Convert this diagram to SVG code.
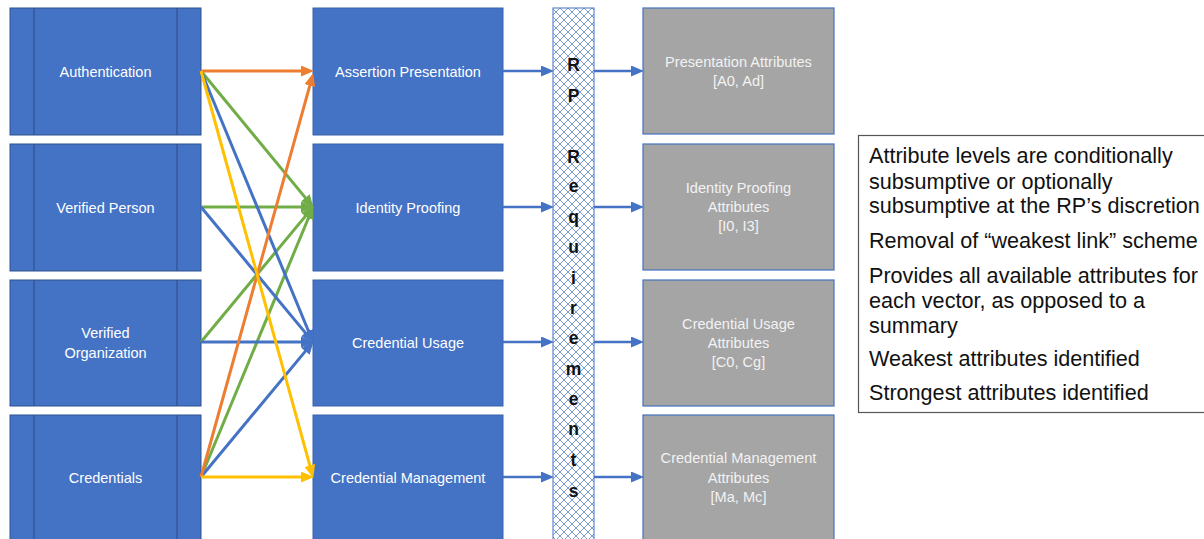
<svg xmlns="http://www.w3.org/2000/svg" width="1204" height="539" viewBox="0 0 1204 539">
<defs>
<style>
.lbox{fill:#4472C4;stroke:#2F528F;stroke-width:1}
.div{stroke:#2F528F;stroke-width:1.2}
.mbox{fill:#4472C4;stroke:#3A63AD;stroke-width:1}
.gbox{fill:#A5A5A5;stroke:#4472C4;stroke-width:1.2}
.bt{font-family:"Liberation Sans",Arial,sans-serif;font-size:14.5px;fill:#FFFFFF;text-anchor:middle}
.gt{font-family:"Liberation Sans",Arial,sans-serif;font-size:14.6px;fill:#F2F2F2;text-anchor:middle}
.rp{font-family:"Liberation Sans",Arial,sans-serif;font-size:17.5px;font-weight:bold;fill:#111;text-anchor:middle}
.nt{font-family:"Liberation Sans",Arial,Helvetica,sans-serif;font-size:21.6px;fill:#111}
.c{fill:none;stroke-width:3}
.o{stroke:#ED7D31}.g{stroke:#70AD47}.b{stroke:#4472C4}.y{stroke:#FFC000}
.ba{fill:none;stroke:#4472C4;stroke-width:2.5}
</style>
<pattern id="hatch" patternUnits="userSpaceOnUse" width="8" height="8">
<rect width="8" height="8" fill="#FFFFFF"/>
<path d="M0,0 L8,8 M8,0 L0,8" stroke="#7B9BD9" stroke-width="1"/>
</pattern>
<marker id="mo" markerUnits="userSpaceOnUse" markerWidth="14" markerHeight="12" refX="6" refY="5.5" orient="auto"><path d="M0,0 L13,5.5 L0,11 z" fill="#ED7D31"/></marker>
<marker id="mg" markerUnits="userSpaceOnUse" markerWidth="14" markerHeight="12" refX="6" refY="5.5" orient="auto"><path d="M0,0 L13,5.5 L0,11 z" fill="#70AD47"/></marker>
<marker id="mb" markerUnits="userSpaceOnUse" markerWidth="14" markerHeight="12" refX="6" refY="5.5" orient="auto"><path d="M0,0 L13,5.5 L0,11 z" fill="#4472C4"/></marker>
<marker id="my" markerUnits="userSpaceOnUse" markerWidth="14" markerHeight="12" refX="6" refY="5.5" orient="auto"><path d="M0,0 L13,5.5 L0,11 z" fill="#FFC000"/></marker>
</defs>
<rect width="1204" height="539" fill="#FFFFFF"/>

<g id="left-nodes">
<g id="n-authentication">
<rect class="lbox" x="10" y="8" width="191" height="127"/>
<line class="div" x1="34" y1="8" x2="34" y2="135"/><line class="div" x1="177" y1="8" x2="177" y2="135"/>
<text class="bt" x="105.5" y="76.5">Authentication</text>
</g>
<g id="n-verified-person">
<rect class="lbox" x="10" y="144" width="191" height="127"/>
<line class="div" x1="34" y1="144" x2="34" y2="271"/><line class="div" x1="177" y1="144" x2="177" y2="271"/>
<text class="bt" x="105.5" y="212.5">Verified Person</text>
</g>
<g id="n-verified-org">
<rect class="lbox" x="10" y="280" width="191" height="126"/>
<line class="div" x1="34" y1="280" x2="34" y2="406"/><line class="div" x1="177" y1="280" x2="177" y2="406"/>
<text class="bt" x="105.5" y="338">Verified</text>
<text class="bt" x="105.5" y="357.5">Organization</text>
</g>
<g id="n-credentials">
<rect class="lbox" x="10" y="415" width="191" height="130"/>
<line class="div" x1="34" y1="415" x2="34" y2="545"/><line class="div" x1="177" y1="415" x2="177" y2="545"/>
<text class="bt" x="105.5" y="483">Credentials</text>
</g>
</g>

<g id="middle-nodes">
<g id="n-assertion"><rect class="mbox" x="313" y="8" width="190" height="127"/><text class="bt" x="408" y="77">Assertion Presentation</text></g>
<g id="n-identity"><rect class="mbox" x="313" y="144" width="190" height="127"/><text class="bt" x="408" y="212.5">Identity Proofing</text></g>
<g id="n-usage"><rect class="mbox" x="313" y="280" width="190" height="126"/><text class="bt" x="408" y="348">Credential Usage</text></g>
<g id="n-management"><rect class="mbox" x="313" y="415" width="190" height="130"/><text class="bt" x="408" y="483">Credential Management</text></g>
</g>

<g id="n-rp-requirements">
<rect x="553" y="8" width="41" height="540" fill="url(#hatch)" stroke="#4472C4" stroke-width="1"/>
<text class="rp"><tspan x="573.5" y="71">R</tspan><tspan x="573.5" y="102">P</tspan><tspan x="573.5" y="163">R</tspan><tspan x="573.5" y="192">e</tspan><tspan x="573.5" y="223">q</tspan><tspan x="573.5" y="253">u</tspan><tspan x="573.5" y="284">i</tspan><tspan x="573.5" y="314">r</tspan><tspan x="573.5" y="344">e</tspan><tspan x="573.5" y="375">m</tspan><tspan x="573.5" y="405">e</tspan><tspan x="573.5" y="435">n</tspan><tspan x="573.5" y="466">t</tspan><tspan x="573.5" y="497">s</tspan></text>
</g>

<g id="gray-nodes">
<g id="n-presentation-attr"><rect class="gbox" x="643" y="8" width="191" height="126"/><text class="gt" x="738.5" y="67">Presentation Attributes</text><text class="gt" x="738.5" y="86">[A0, Ad]</text></g>
<g id="n-identity-attr"><rect class="gbox" x="643" y="144" width="191" height="126"/><text class="gt" x="738.5" y="193">Identity Proofing</text><text class="gt" x="738.5" y="212">Attributes</text><text class="gt" x="738.5" y="231">[I0, I3]</text></g>
<g id="n-usage-attr"><rect class="gbox" x="643" y="280" width="191" height="126"/><text class="gt" x="738.5" y="328.5">Credential Usage</text><text class="gt" x="738.5" y="347.5">Attributes</text><text class="gt" x="738.5" y="366.5">[C0, Cg]</text></g>
<g id="n-management-attr"><rect class="gbox" x="643" y="415" width="191" height="130"/><text class="gt" x="738.5" y="463">Credential Management</text><text class="gt" x="738.5" y="482.5">Attributes</text><text class="gt" x="738.5" y="502">[Ma, Mc]</text></g>
</g>

<g id="n-notes">
<rect x="858.5" y="135.5" width="350" height="277" fill="#FFFFFF" stroke="#555555" stroke-width="1.2"/>
<text class="nt" x="869" y="163">Attribute levels are conditionally</text>
<text class="nt" x="869" y="188.5">subsumptive or optionally</text>
<text class="nt" x="869" y="213">subsumptive at the RP’s discretion</text>
<text class="nt" x="869" y="248">Removal of “weakest link” scheme</text>
<text class="nt" x="869" y="282.5">Provides all available attributes for</text>
<text class="nt" x="869" y="308">each vector, as opposed to a</text>
<text class="nt" x="869" y="333">summary</text>
<text class="nt" x="869" y="365.5">Weakest attributes identified</text>
<text class="nt" x="869" y="400">Strongest attributes identified</text>
</g>

<g id="connectors">
<line class="c g" x1="201" y1="71" x2="309.2" y2="202.4" marker-end="url(#mg)"/>
<line class="c g" x1="201" y1="207" x2="307" y2="207" marker-end="url(#mg)"/>
<line class="c g" x1="201" y1="342" x2="309.2" y2="211.6" marker-end="url(#mg)"/>
<line class="c g" x1="201" y1="477" x2="310.7" y2="212.5" marker-end="url(#mg)"/>
<line class="c b" x1="201" y1="71" x2="310.7" y2="336.5" marker-end="url(#mb)"/>
<line class="c b" x1="201" y1="207" x2="309.2" y2="337.4" marker-end="url(#mb)"/>
<line class="c b" x1="201" y1="342" x2="307" y2="342" marker-end="url(#mb)"/>
<line class="c b" x1="201" y1="477" x2="309.2" y2="346.6" marker-end="url(#mb)"/>
<line class="c o" x1="201" y1="71" x2="307" y2="71" marker-end="url(#mo)"/>
<line class="c o" x1="201" y1="477" x2="311.4" y2="79.8" marker-end="url(#mo)"/>
<line class="c y" x1="201" y1="71" x2="311.4" y2="471.2" marker-end="url(#my)"/>
<line class="c y" x1="201" y1="477" x2="307" y2="477" marker-end="url(#my)"/>

<line class="ba" x1="503" y1="71" x2="547" y2="71" marker-end="url(#mb)"/>
<line class="ba" x1="503" y1="207" x2="547" y2="207" marker-end="url(#mb)"/>
<line class="ba" x1="503" y1="342" x2="547" y2="342" marker-end="url(#mb)"/>
<line class="ba" x1="503" y1="477" x2="547" y2="477" marker-end="url(#mb)"/>
<line class="ba" x1="594" y1="71" x2="637" y2="71" marker-end="url(#mb)"/>
<line class="ba" x1="594" y1="207" x2="637" y2="207" marker-end="url(#mb)"/>
<line class="ba" x1="594" y1="342" x2="637" y2="342" marker-end="url(#mb)"/>
<line class="ba" x1="594" y1="477" x2="637" y2="477" marker-end="url(#mb)"/>
</g>
</svg>
